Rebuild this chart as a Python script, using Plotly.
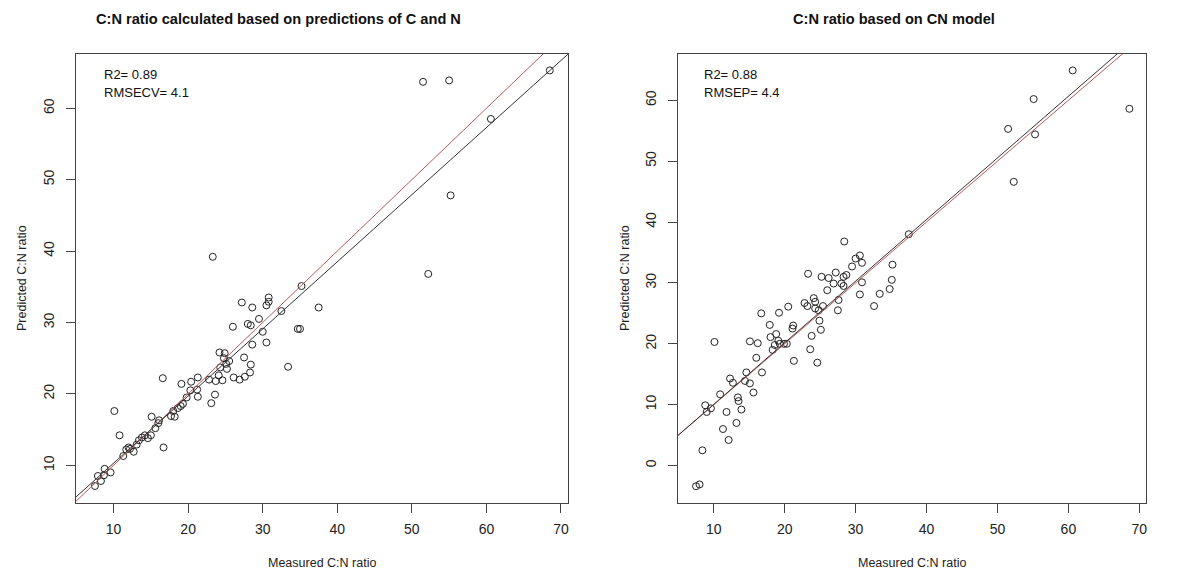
import plotly.graph_objects as go

# ---------------- data ----------------
left_measured = [51.5, 55.0, 68.5, 60.6, 55.2, 52.2, 23.3, 35.2, 30.8, 30.8, 30.5, 27.2, 28.6, 37.5,
                 32.5, 29.5, 26.0, 28.0, 28.4, 34.7, 35.0, 30.0, 28.6, 30.5, 24.2, 24.9, 24.8, 25.5,
                 27.5, 25.1, 28.4, 24.3, 25.2, 33.4, 28.3, 24.1, 22.8, 23.7, 24.6, 26.1, 26.9, 27.6,
                 21.3, 20.4, 19.1, 16.6, 20.3, 21.2, 21.3, 19.8, 23.6, 23.1, 19.3, 19.0, 18.6, 18.0,
                 17.7, 18.2, 10.1, 15.1, 16.1, 16.0, 15.6, 15.0, 14.6, 14.2, 13.8, 13.4, 13.1, 10.8,
                 16.7, 12.0, 12.2, 11.7, 12.7, 11.3, 8.8, 9.6, 7.9, 8.7, 8.3, 7.5]
left_predicted = [63.7, 63.9, 65.3, 58.5, 47.8, 36.8, 39.2, 35.1, 33.5, 32.9, 32.4, 32.8, 32.1, 32.1,
                  31.6, 30.5, 29.4, 29.8, 29.6, 29.1, 29.1, 28.7, 26.9, 27.2, 25.8, 25.7, 25.0, 24.6,
                  25.1, 24.2, 24.1, 23.7, 23.5, 23.8, 23.0, 22.6, 22.0, 21.8, 21.9, 22.3, 22.0, 22.4,
                  22.3, 21.7, 21.4, 22.2, 20.5, 20.6, 19.6, 19.5, 19.9, 18.7, 18.6, 18.3, 18.0, 17.6,
                  16.9, 16.8, 17.6, 16.8, 16.3, 15.9, 15.2, 14.2, 13.8, 14.2, 13.9, 13.5, 12.9, 14.2,
                  12.5, 12.5, 12.3, 12.2, 11.9, 11.3, 9.5, 9.0, 8.5, 8.6, 7.8, 7.1]

right_measured = [60.6, 55.1, 68.6, 51.5, 55.3, 52.3, 37.5, 28.4, 30.6, 30.0, 30.9, 35.2, 29.5, 27.2,
                  23.3, 25.2, 26.2, 28.7, 28.3, 35.1, 26.9, 28.0, 28.3, 30.9, 26.0, 34.8, 33.4, 30.6,
                  27.6, 32.6, 24.1, 24.3, 22.8, 23.2, 20.5, 25.4, 24.3, 24.8, 27.5, 16.7, 19.2, 24.9,
                  17.9, 21.2, 21.1, 25.1, 18.8, 18.0, 23.8, 10.1, 15.1, 16.2, 19.1, 19.3, 18.6, 19.9,
                  20.3, 18.3, 23.6, 16.0, 21.3, 24.6, 14.6, 16.8, 14.4, 15.1, 12.3, 12.7, 15.6, 10.9,
                  13.4, 13.5, 13.9, 8.8, 9.6, 9.0, 11.8, 13.2, 11.3, 12.1, 8.4, 7.5, 8.0]
right_predicted = [64.9, 60.2, 58.6, 55.3, 54.4, 46.6, 38.0, 36.8, 34.5, 34.0, 33.3, 33.0, 32.7, 31.7,
                   31.5, 31.0, 30.8, 31.3, 31.0, 30.5, 29.9, 29.9, 29.5, 30.1, 28.8, 29.0, 28.2, 28.1,
                   27.2, 26.2, 27.5, 26.9, 26.7, 26.2, 26.1, 26.2, 25.8, 25.5, 25.5, 25.0, 25.1, 23.8,
                   23.1, 23.0, 22.5, 22.3, 21.6, 21.1, 21.3, 20.3, 20.4, 20.1, 20.5, 20.0, 19.8, 20.0,
                   20.0, 19.0, 19.1, 17.7, 17.2, 16.9, 15.3, 15.3, 13.9, 13.5, 14.3, 13.6, 12.0, 11.7,
                   11.2, 10.6, 9.2, 9.9, 9.4, 8.8, 8.8, 7.0, 6.0, 4.2, 2.5, -3.4, -3.1]

# reference / fitted lines (intercept, slope)
left_fit = (0.9, 0.94)
left_one = (0.0, 1.0)
right_fit = (-0.07, 1.012)
right_one = (0.0, 1.0)

titles = ["C:N ratio calculated based on predictions of C and N", "C:N ratio based on CN model"]
stats_left = ["R2= 0.89", "RMSECV= 4.1"]
stats_right = ["R2= 0.88", "RMSEP= 4.4"]
x_ticks = [10, 20, 30, 40, 50, 60, 70]
left_y_ticks = [10, 20, 30, 40, 50, 60]
right_y_ticks = [0, 10, 20, 30, 40, 50, 60]
x_label = "Measured C:N ratio"
y_label = "Predicted C:N ratio"

# ---------------- figure ----------------
OFF = 8  # page body margin
W, H = 1187 - OFF, 573 - OFF
FONT = "Liberation Sans, Arial, sans-serif"
RED = "#B55A5A"
BLACK = "#222222"


def px(x):
    return (x - OFF) / W


def py(y):
    return 1 - (y - OFF) / H


fig = go.Figure()
line_x = [0, 80]


def add_panel(xs, ys, fit, one, xa, ya):
    fig.add_trace(go.Scatter(x=xs, y=ys, mode="markers", xaxis=xa, yaxis=ya,
                             marker=dict(symbol="circle-open", size=7, color=BLACK,
                                         line=dict(width=1, color=BLACK)),
                             showlegend=False, hoverinfo="x+y"))
    fig.add_trace(go.Scatter(x=line_x, y=[one[0] + one[1] * v for v in line_x], mode="lines",
                             xaxis=xa, yaxis=ya, line=dict(color=RED, width=1),
                             showlegend=False, hoverinfo="skip"))
    fig.add_trace(go.Scatter(x=line_x, y=[fit[0] + fit[1] * v for v in line_x], mode="lines",
                             xaxis=xa, yaxis=ya, line=dict(color="#333333", width=1),
                             showlegend=False, hoverinfo="skip"))


add_panel(left_measured, left_predicted, left_fit, left_one, "x", "y")
add_panel(right_measured, right_predicted, right_fit, right_one, "x2", "y2")

ydom = [py(503), py(54)]
ax_common = dict(showline=True, mirror=True, linecolor="#444444", linewidth=1,
                 showgrid=False, zeroline=False, ticks="outside", ticklen=9,
                 tickcolor="#444444", tickwidth=1,
                 tickfont=dict(family=FONT, size=14, color="#222222"))

fig.update_layout(
    width=W, height=H, margin=dict(l=0, r=0, t=0, b=0),
    paper_bgcolor="white", plot_bgcolor="white",
    xaxis=dict(domain=[px(76), px(568)], range=[4.96, 70.94], tickvals=x_ticks,
               anchor="y", ticklabelstandoff=4, **ax_common),
    yaxis=dict(domain=ydom, range=[4.72, 67.6], tickvals=left_y_ticks, tickangle=-90,
               anchor="x", ticklabelstandoff=6, **ax_common),
    xaxis2=dict(domain=[px(678), px(1146)], range=[4.96, 70.94], tickvals=x_ticks,
                anchor="y2", ticklabelstandoff=4, **ax_common),
    yaxis2=dict(domain=ydom, range=[-6.15, 67.6], tickvals=right_y_ticks, tickangle=-90,
                anchor="x2", ticklabelstandoff=6, **ax_common),
)

ann = []
# titles
for cx, t in [(278, titles[0]), (894, titles[1])]:
    ann.append(dict(text="<b>" + t + "</b>", x=px(cx), y=py(19), xref="paper", yref="paper",
                    showarrow=False, font=dict(family=FONT, size=14.6, color="#111111"),
                    xanchor="center", yanchor="middle"))
# axis titles
for cx in [322, 912]:
    ann.append(dict(text=x_label, x=px(cx), y=py(563), xref="paper", yref="paper",
                    showarrow=False, font=dict(family=FONT, size=12.5, color="#222222"),
                    xanchor="center", yanchor="middle"))
for cx in [22, 625]:
    ann.append(dict(text=y_label, x=px(cx), y=py(278), xref="paper", yref="paper",
                    showarrow=False, textangle=-90, font=dict(family=FONT, size=12.5, color="#222222"),
                    xanchor="center", yanchor="middle"))
# stats text
for lx, lines in [(102, stats_left), (702, stats_right)]:
    for i, t in enumerate(lines):
        ann.append(dict(text=t, x=px(lx), y=py(75 + 17 * i), xref="paper", yref="paper",
                        showarrow=False, font=dict(family=FONT, size=13, color="#111111"),
                        xanchor="left", yanchor="middle"))
fig.update_layout(annotations=ann)

fig.write_html("out.html")
